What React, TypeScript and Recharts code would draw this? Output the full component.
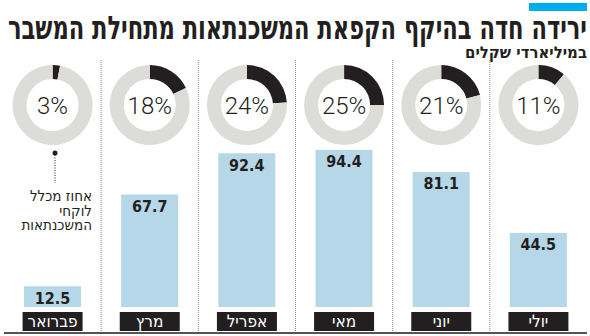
import React from 'react';
import { BarChart, Bar, XAxis, YAxis, LabelList, PieChart, Pie, Cell } from 'recharts';

const months = ['פברואר', 'מרץ', 'אפריל', 'מאי', 'יוני', 'יולי'];
const amounts = [12.5, 67.7, 92.4, 94.4, 81.1, 44.5];
const shares = [3, 18, 24, 25, 21, 11];

const title = 'ירידה חדה בהיקף הקפאת המשכנתאות מתחילת המשבר';
const subtitle = 'במיליארדי שקלים';
const noteLines = ['אחוז מכלל', 'לוקחי', 'המשכנתאות'];

const W = 590;
const H = 336;
const PLOT_L = 4;
const PLOT_R = 587;
const COL_W = (PLOT_R - PLOT_L) / months.length;
const DARK = '#231f20';
const NARROW = '"Liberation Sans Narrow", "DejaVu Sans Condensed", "Liberation Sans", sans-serif';

const barData = months.map((m, i) => ({ month: m, value: amounts[i] }));

const MonthTick = (props: any) => {
  const { x, payload } = props;
  return (
    <g>
      <rect x={x - 30} y={312} width={60} height={19} fill={DARK} />
      <text x={x} y={327} textAnchor="middle" fill="#fff" fontSize={17} fontFamily={NARROW}>
        {payload.value}
      </text>
    </g>
  );
};

export default function App() {
  const colCenter = (i: number) => PLOT_L + COL_W * (i + 0.5);
  return (
    <div style={{ position: 'relative', width: W, height: H, background: '#fff', overflow: 'hidden' }}>
      <style>{'body{margin:0}'}</style>
      <div style={{ position: 'absolute', left: 0, top: 0 }}>
        <BarChart width={W} height={H} data={barData} margin={{ top: 57.5, right: W - PLOT_R, bottom: 0, left: PLOT_L }} barSize={57}>
          <XAxis dataKey="month" height={29} axisLine={false} tickLine={false} tick={<MonthTick />} interval={0} />
          <YAxis hide domain={[0, 150]} />
          <Bar dataKey="value" fill="#b5d7e8" isAnimationActive={false}>
            <LabelList dataKey="value" position="insideTop" offset={6} fill={DARK} fontSize={16} fontWeight={700} fontFamily={NARROW}
              formatter={(v: any) => Number(v).toFixed(1)} />
          </Bar>
        </BarChart>
      </div>
      <div style={{ position: 'absolute', left: 0, top: 0, pointerEvents: 'none' }}>
        <PieChart width={W} height={H} margin={{ top: 0, right: 0, bottom: 0, left: 0 }}>
          {shares.map((s, i) => (
            <Pie key={i} data={[{ name: 'share', v: s }, { name: 'rest', v: 100 - s }]} dataKey="v"
              cx={colCenter(i)} cy={105} innerRadius={26} outerRadius={40} startAngle={90} endAngle={-270}
              stroke="none" isAnimationActive={false}>
              <Cell fill={DARK} />
              <Cell fill="#dcdcd8" />
            </Pie>
          ))}
        </PieChart>
      </div>
      <svg width={W} height={H} style={{ position: 'absolute', left: 0, top: 0, pointerEvents: 'none' }}>
        <rect x={529} y={3} width={58} height={8} fill="#00aeef" />
        <text x={587} y={39} textAnchor="end" fontSize={32} fontWeight={700} fill={DARK} fontFamily={NARROW}
          textLength={579} lengthAdjust="spacingAndGlyphs">{title}</text>
        <text x={587} y={58} textAnchor="end" fontSize={16} fontWeight={700} fill={DARK} fontFamily={NARROW}
          textLength={122} lengthAdjust="spacingAndGlyphs">{subtitle}</text>
        {shares.map((s, i) => (
          <text key={i} x={colCenter(i)} y={114} textAnchor="middle" fontSize={24} fontWeight={300} fill={DARK}
            fontFamily='Roboto, "Open Sans", sans-serif'>{`${s}%`}</text>
        ))}
        {months.slice(1).map((_, i) => {
          const x = PLOT_L + COL_W * (i + 1);
          return <line key={i} x1={x} x2={x} y1={60} y2={333} stroke="#8a8a8a" strokeWidth={1} strokeDasharray="1 1" />;
        })}
        <rect x={PLOT_L} y={332} width={PLOT_R - PLOT_L} height={2} fill="#555" />
        <circle cx={55} cy={153} r={2.5} fill={DARK} />
        <line x1={55} x2={55} y1={155} y2={183} stroke={DARK} strokeWidth={1} strokeDasharray="1 1.5" />
        {noteLines.map((t, i) => (
          <text key={i} x={92} y={201 + i * 14.5} textAnchor="end" fontSize={15} fill={DARK} fontFamily={NARROW}>{t}</text>
        ))}
      </svg>
    </div>
  );
}
